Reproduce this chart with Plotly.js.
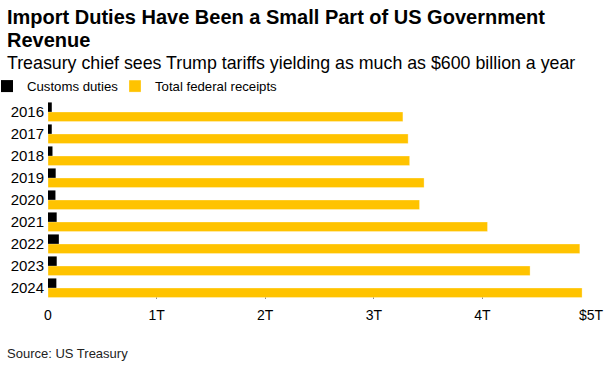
<!DOCTYPE html>
<html>
<head>
<meta charset="utf-8">
<script src="https://cdn.plot.ly/plotly-3.0.1.min.js"></script>
<style>html,body{margin:0;padding:0;background:#fff;}#chart{width:608px;height:365px;}</style>
</head>
<body>
<div id="chart"></div>
<script>
const years = ['2016','2017','2018','2019','2020','2021','2022','2023','2024'];
const customsDuties = [0.0348, 0.0346, 0.0413, 0.0708, 0.0686, 0.0800, 0.0999, 0.0803, 0.0770];
const totalReceipts = [3.268, 3.316, 3.330, 3.463, 3.421, 4.047, 4.897, 4.439, 4.918];
const tickVals = [0, 1, 2, 3, 4, 5];
const tickLabels = ['0', '1T', '2T', '3T', '4T', '$5T'];

const W = 608, H = 365;
const mL = 48, mR = 17, mT = 101, mB = 66;
const pw = W - mL - mR, ph = H - mT - mB;
const px = x => (x - mL) / pw;
const py = y => (H - mB - y) / ph;
const font = 'Liberation Sans, Arial, sans-serif';

const traces = [
  {type: 'bar', orientation: 'h', name: 'Customs duties', y: years, x: customsDuties,
   marker: {color: '#000000'}, hoverinfo: 'x+y', legend: 'legend'},
  {type: 'bar', orientation: 'h', name: 'Total federal receipts', y: years, x: totalReceipts,
   marker: {color: '#FFC300', line: {color: 'rgba(255,255,255,0.6)', width: 0.5}}, hoverinfo: 'x+y', legend: 'legend2'}
];

const legendBase = {orientation: 'h', xref: 'paper', yref: 'paper', y: py(71),
  xanchor: 'left', yanchor: 'top', font: {size: 13.2, family: font}, itemwidth: 30,
  bgcolor: 'rgba(0,0,0,0)'};

const layout = {
  width: W, height: H,
  margin: {l: mL, r: mR, t: mT, b: mB, pad: 0, autoexpand: false},
  paper_bgcolor: '#fff', plot_bgcolor: '#fff',
  font: {family: font, color: '#000', size: 14},
  barmode: 'group', bargap: 0.13, bargroupgap: 0,
  showlegend: true,
  legend: Object.assign({}, legendBase, {x: px(-13)}),
  legend2: Object.assign({}, legendBase, {x: px(115)}),
  xaxis: {range: [0, 5], tickvals: tickVals, ticktext: tickLabels, ticks: 'inside', ticklen: 8,
    tickcolor: '#888', tickwidth: 1, showgrid: false, zeroline: false, showline: false,
    layer: 'below traces', tickfont: {size: 14, family: font}, ticklabelstandoff: 6, fixedrange: true},
  yaxis: {type: 'category', autorange: 'reversed', showgrid: false, zeroline: false, showline: false,
    ticks: '', tickfont: {size: 15, family: font}, ticklabelstandoff: 3, fixedrange: true},
  annotations: [
    {xref: 'paper', yref: 'paper', x: px(5), y: py(17), xanchor: 'left', yanchor: 'middle', showarrow: false,
     align: 'left', text: '<b>Import Duties Have Been a Small Part of US Government</b>',
     font: {size: 20, family: font, color: '#000'}},
    {xref: 'paper', yref: 'paper', x: px(5), y: py(40), xanchor: 'left', yanchor: 'middle', showarrow: false,
     align: 'left', text: '<b>Revenue</b>',
     font: {size: 20, family: font, color: '#000'}},
    {xref: 'paper', yref: 'paper', x: px(5), y: py(63), xanchor: 'left', yanchor: 'middle', showarrow: false,
     align: 'left', text: 'Treasury chief sees Trump tariffs yielding as much as $600 billion a year',
     font: {size: 17.8, family: font, color: '#000'}},
    {xref: 'paper', yref: 'paper', x: px(5), y: py(353), xanchor: 'left', yanchor: 'middle', showarrow: false,
     align: 'left', text: 'Source: US Treasury',
     font: {size: 13, family: font, color: '#222'}}
  ]
};

Plotly.newPlot('chart', traces, layout, {displayModeBar: false, staticPlot: true});
</script>
</body>
</html>
